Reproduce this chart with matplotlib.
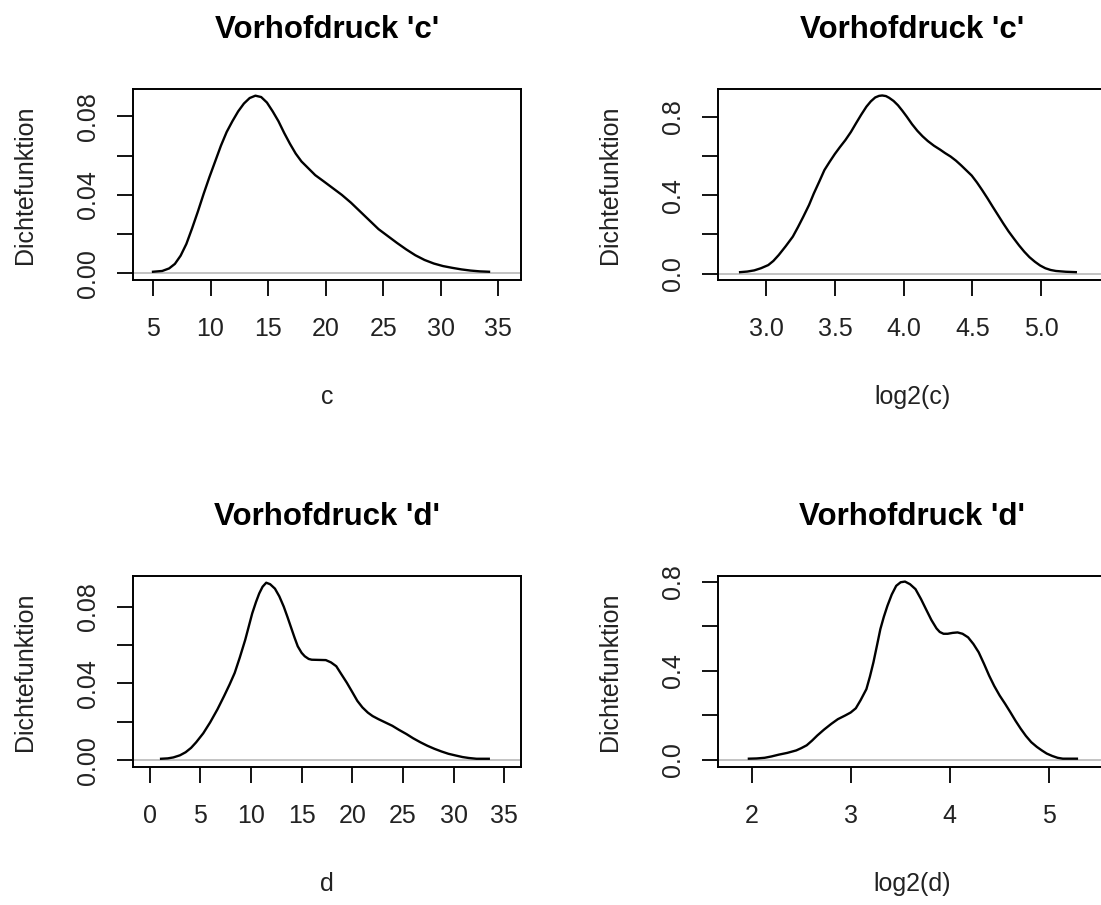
import matplotlib
matplotlib.use("Agg")
import matplotlib.pyplot as plt

plt.rcParams['font.family'] = ['Liberation Sans', 'DejaVu Sans']

# Kernel density estimates, read as (x, density) pairs
c_x = [5.0, 5.8, 6.4, 6.9, 7.4, 7.9, 8.4, 8.9, 9.4, 9.9, 10.4, 10.9, 11.4, 11.9,
       12.4, 12.9, 13.4, 13.9, 14.4, 14.9, 15.4, 15.9, 16.4, 16.9, 17.4, 17.9,
       18.5, 19.1, 19.8, 20.6, 21.4, 22.2, 23.0, 23.8, 24.6, 25.4, 26.2, 27.0,
       27.8, 28.6, 29.4, 30.2, 31.0, 31.8, 32.6, 33.4, 34.2]
c_y = [0.0008, 0.0012, 0.0025, 0.0048, 0.0090, 0.0150, 0.0230, 0.0315, 0.0405,
       0.0490, 0.0570, 0.0650, 0.0720, 0.0775, 0.0825, 0.0865, 0.0893, 0.0905,
       0.0898, 0.0870, 0.0825, 0.0775, 0.0715, 0.0660, 0.0610, 0.0570, 0.0535,
       0.0500, 0.0470, 0.0435, 0.0400, 0.0360, 0.0315, 0.0270, 0.0225, 0.0190,
       0.0155, 0.0122, 0.0092, 0.0068, 0.0050, 0.0037, 0.0028, 0.0020, 0.0014,
       0.0010, 0.0008]

logc_x = [2.808, 2.86, 2.911, 2.96, 3.013, 3.05, 3.089, 3.14, 3.192, 3.23, 3.268,
          3.31, 3.345, 3.385, 3.422, 3.46, 3.498, 3.535, 3.575, 3.615, 3.652,
          3.69, 3.728, 3.76, 3.792, 3.82, 3.843, 3.87, 3.894, 3.926, 3.958, 3.99,
          4.022, 4.06, 4.099, 4.137, 4.175, 4.22, 4.265, 4.30, 4.341, 4.38,
          4.418, 4.455, 4.495, 4.533, 4.571, 4.61, 4.648, 4.687, 4.725, 4.763,
          4.801, 4.84, 4.878, 4.916, 4.955, 4.993, 5.031, 5.07, 5.108, 5.18,
          5.253]
logc_y = [0.008, 0.011, 0.017, 0.028, 0.044, 0.065, 0.095, 0.140, 0.189, 0.238,
          0.290, 0.350, 0.409, 0.470, 0.528, 0.570, 0.610, 0.645, 0.681, 0.722,
          0.766, 0.810, 0.851, 0.878, 0.898, 0.906, 0.908, 0.905, 0.896, 0.880,
          0.858, 0.830, 0.800, 0.762, 0.728, 0.700, 0.676, 0.652, 0.632, 0.615,
          0.597, 0.576, 0.552, 0.527, 0.500, 0.465, 0.426, 0.384, 0.341, 0.298,
          0.256, 0.216, 0.180, 0.144, 0.112, 0.084, 0.061, 0.042, 0.028, 0.019,
          0.014, 0.010, 0.008]

d_x = [1.14, 1.8, 2.35, 3.0, 3.56, 4.1, 4.6, 5.3, 5.98, 6.7, 7.36, 7.9, 8.4, 8.9,
       9.44, 9.8, 10.13, 10.5, 10.82, 11.15, 11.51, 11.9, 12.37, 12.8, 13.24,
       13.6, 13.93, 14.3, 14.62, 15.0, 15.31, 15.7, 16.0, 16.7, 17.39, 17.9,
       18.42, 18.9, 19.46, 20.0, 20.5, 21.0, 21.53, 22.0, 22.57, 23.2, 23.95,
       24.6, 25.34, 26.0, 26.72, 27.4, 28.1, 28.8, 29.48, 30.2, 30.87, 31.5,
       32.25, 33.46]
d_y = [0.0007, 0.0009, 0.0014, 0.0025, 0.0041, 0.0064, 0.0093, 0.0140, 0.0197,
       0.0265, 0.0335, 0.0395, 0.0455, 0.0535, 0.0628, 0.0700, 0.0766, 0.0825,
       0.0870, 0.0905, 0.0926, 0.0918, 0.0895, 0.0855, 0.0801, 0.0748, 0.0697,
       0.0640, 0.0594, 0.0560, 0.0542, 0.0528, 0.0524, 0.0523, 0.0522, 0.0510,
       0.0490, 0.0450, 0.0404, 0.0355, 0.0309, 0.0275, 0.0248, 0.0230, 0.0214,
       0.0198, 0.0179, 0.0158, 0.0136, 0.0114, 0.0093, 0.0075, 0.0059, 0.0045,
       0.0033, 0.0024, 0.0016, 0.0011, 0.0007, 0.0007]

logd_x = [1.972, 2.05, 2.131, 2.20, 2.273, 2.36, 2.45, 2.50, 2.556, 2.61, 2.663,
          2.73, 2.804, 2.87, 2.946, 3.00, 3.052, 3.10, 3.159, 3.195, 3.23, 3.265,
          3.30, 3.335, 3.371, 3.415, 3.46, 3.505, 3.549, 3.60, 3.655, 3.71,
          3.761, 3.815, 3.867, 3.90, 3.938, 3.98, 4.03, 4.08, 4.13, 4.186, 4.24,
          4.293, 4.346, 4.399, 4.45, 4.505, 4.56, 4.612, 4.665, 4.718, 4.77,
          4.824, 4.88, 4.931, 4.98, 5.037, 5.09, 5.143, 5.285]
logd_y = [0.006, 0.007, 0.010, 0.016, 0.024, 0.032, 0.043, 0.053, 0.066, 0.087,
          0.110, 0.136, 0.162, 0.183, 0.200, 0.213, 0.232, 0.268, 0.318, 0.375,
          0.438, 0.512, 0.587, 0.642, 0.691, 0.742, 0.781, 0.797, 0.800, 0.788,
          0.766, 0.722, 0.676, 0.628, 0.590, 0.574, 0.566, 0.566, 0.570, 0.572,
          0.566, 0.550, 0.520, 0.483, 0.432, 0.378, 0.332, 0.289, 0.252, 0.215,
          0.176, 0.140, 0.108, 0.080, 0.059, 0.043, 0.029, 0.018, 0.010, 0.006,
          0.006]

titles = ["Vorhofdruck 'c'", "Vorhofdruck 'c'", "Vorhofdruck 'd'", "Vorhofdruck 'd'"]
xlabels = ["c", "log2(c)", "d", "log2(d)"]
ylabel = "Dichtefunktion"

c_xticks = [5, 10, 15, 20, 25, 30, 35]
c_yticks = [0.00, 0.02, 0.04, 0.06, 0.08]
c_yticklabels = ["0.00", "", "0.04", "", "0.08"]
logc_xticks = [3.0, 3.5, 4.0, 4.5, 5.0]
logc_yticks = [0.0, 0.2, 0.4, 0.6, 0.8]
logc_yticklabels = ["0.0", "", "0.4", "", "0.8"]
d_xticks = [0, 5, 10, 15, 20, 25, 30, 35]
logd_xticks = [2, 3, 4, 5]

W, H = 1101, 905
fig = plt.figure(figsize=(W / 100, H / 100), dpi=100)
fig.patch.set_facecolor("white")

box_w, box_h = 388, 191
lefts = [133, 718]
tops = [89, 576]

panels = [
    dict(x=c_x, y=c_y, xlim=(3.26, 36.98), ylim=(-0.0034, 0.0939),
         xt=c_xticks, xtl=[str(v) for v in c_xticks],
         yt=c_yticks, ytl=c_yticklabels),
    dict(x=logc_x, y=logc_y, xlim=(2.647, 5.473), ylim=(-0.032, 0.941),
         xt=logc_xticks, xtl=[f"{v:.1f}" for v in logc_xticks],
         yt=logc_yticks, ytl=logc_yticklabels),
    dict(x=d_x, y=d_y, xlim=(-1.63, 36.64), ylim=(-0.0036, 0.0961),
         xt=d_xticks, xtl=[str(v) for v in d_xticks],
         yt=c_yticks, ytl=c_yticklabels),
    dict(x=logd_x, y=logd_y, xlim=(1.660, 5.579), ylim=(-0.0313, 0.825),
         xt=logd_xticks, xtl=[str(v) for v in logd_xticks],
         yt=logc_yticks, ytl=logc_yticklabels),
]

tick_fs = 18
label_fs = 18
title_fs = 22.5
tick_len = 11.5  # points

for i, p in enumerate(panels):
    row, col = divmod(i, 2)
    left_px, top_px = lefts[col], tops[row]
    ax = fig.add_axes([left_px / W, 1 - (top_px + box_h) / H, box_w / W, box_h / H])
    ax.axhline(0, color="#BEBEBE", lw=1.3, zorder=1)
    ax.plot(p["x"], p["y"], color="black", lw=1.7, zorder=2,
            solid_joinstyle="round")
    ax.set_xlim(*p["xlim"])
    ax.set_ylim(*p["ylim"])
    ax.set_xticks(p["xt"])
    ax.set_xticklabels(p["xtl"])
    ax.set_yticks(p["yt"])
    ax.set_yticklabels(p["ytl"])
    for s in ax.spines.values():
        s.set_linewidth(1.4)
        s.set_color("black")
    ax.tick_params(axis="both", direction="out", length=tick_len, width=1.3,
                   colors="black", labelsize=tick_fs, labelcolor="#222222")
    ax.tick_params(axis="x", pad=15)
    ax.tick_params(axis="y", pad=12, labelrotation=90)
    for lab in ax.get_yticklabels():
        lab.set_va("center")
    ax.text(0.5, 1 + 59 / box_h, titles[i], transform=ax.transAxes,
            ha="center", va="center", fontsize=title_fs, fontweight="bold",
            color="black")
    ax.text(0.5, -117 / box_h, xlabels[i], transform=ax.transAxes,
            ha="center", va="center", fontsize=label_fs, color="#222222")
    ax.text(-108 / box_w, 0.5, ylabel, transform=ax.transAxes, rotation=90,
            ha="center", va="center", fontsize=label_fs, color="#222222")

fig.savefig("out.png", dpi=100, facecolor="white")
